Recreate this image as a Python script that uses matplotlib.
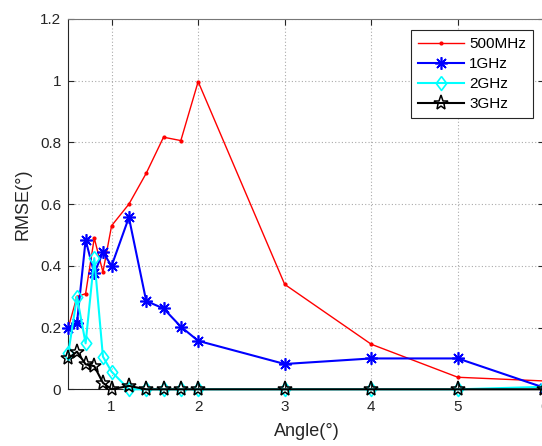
import matplotlib

matplotlib.use("Agg")

import matplotlib.pyplot as plt

angle = [0.5, 0.6, 0.7, 0.8, 0.9, 1.0, 1.2, 1.4, 1.6, 1.8, 2.0, 3, 4, 5, 6]

rmse_500mhz = [0.20, 0.30, 0.31, 0.49, 0.38, 0.53, 0.60, 0.70, 0.817, 0.806, 0.997,
               0.34, 0.146, 0.039, 0.027]
rmse_1ghz = [0.20, 0.214, 0.484, 0.376, 0.444, 0.40, 0.557, 0.286, 0.262, 0.203, 0.157,
             0.082, 0.10, 0.10, 0.005]
rmse_2ghz = [0.117, 0.30, 0.149, 0.425, 0.106, 0.057, 0.0, 0.0, 0.0, 0.0, 0.0,
             0.0, 0.0, 0.0, 0.008]
rmse_3ghz = [0.10, 0.122, 0.081, 0.075, 0.021, 0.0, 0.011, 0.0, 0.0, 0.0, 0.0,
             0.0, 0.0, 0.0, 0.0]

labels = ["500MHz", "1GHz", "2GHz", "3GHz"]
x_ticks = [1, 2, 3, 4, 5, 6]
y_ticks = [0, 0.2, 0.4, 0.6, 0.8, 1.0, 1.2]
y_tick_labels = ["0", "0.2", "0.4", "0.6", "0.8", "1", "1.2"]

plt.rcParams["font.family"] = ["Liberation Sans", "DejaVu Sans"]

fig = plt.figure(figsize=(5.42, 4.46), dpi=100)
ax = fig.add_axes([68.3 / 542, 56.7 / 446, (544.4 - 68.3) / 542, (389.3 - 19) / 446])

# matlab-like markers
asterisk = (8, 2, 0)
diamond = [(0, 1), (0.75, 0), (0, -1), (-0.75, 0), (0, 1)]

ax.plot(angle, rmse_500mhz, color="red", lw=1.0, marker=".", ms=4,
        label=labels[0], clip_on=False, zorder=3)
ax.plot(angle, rmse_1ghz, color="blue", lw=1.5, marker=asterisk, ms=9, mew=1.2,
        label=labels[1], clip_on=False, zorder=4)
ax.plot(angle, rmse_2ghz, color="cyan", lw=1.5, marker=diamond, ms=10, mfc="none",
        mew=1.2, label=labels[2], clip_on=False, zorder=5)
ax.plot(angle, rmse_3ghz, color="black", lw=1.5, marker="*", ms=11, mfc="none",
        mew=1.1, label=labels[3], clip_on=False, zorder=6)

ax.set_xlim(0.5, 6)
ax.set_ylim(0, 1.2)
ax.set_xticks(x_ticks)
ax.set_yticks(y_ticks)
ax.set_yticklabels(y_tick_labels)
ax.tick_params(direction="in", length=4, labelsize=11, colors="#262626",
               top=True, right=True)
ax.tick_params(axis="x", pad=8)
ax.tick_params(axis="y", pad=5)
ax.grid(True, linestyle=(0, (1, 2)), color="#aaaaaa", linewidth=0.8)
for side in ["left", "bottom"]:
    ax.spines[side].set_color("#262626")
for side in ["top", "right"]:
    ax.spines[side].set_color("#777777")

ax.set_xlabel("Angle(°)", fontsize=13, color="#262626", labelpad=6)
ax.set_ylabel("RMSE(°)", fontsize=13, color="#262626", labelpad=6)

leg = ax.legend(loc="upper right", bbox_to_anchor=(533 / 542, 416 / 446),
                bbox_transform=fig.transFigure, fontsize=11, fancybox=False,
                framealpha=1, edgecolor="#262626", borderpad=0.45,
                labelspacing=0.4, handlelength=3.0, handletextpad=0.35,
                borderaxespad=0)
leg.get_frame().set_linewidth(0.8)

fig.savefig("out.png", dpi=100)
